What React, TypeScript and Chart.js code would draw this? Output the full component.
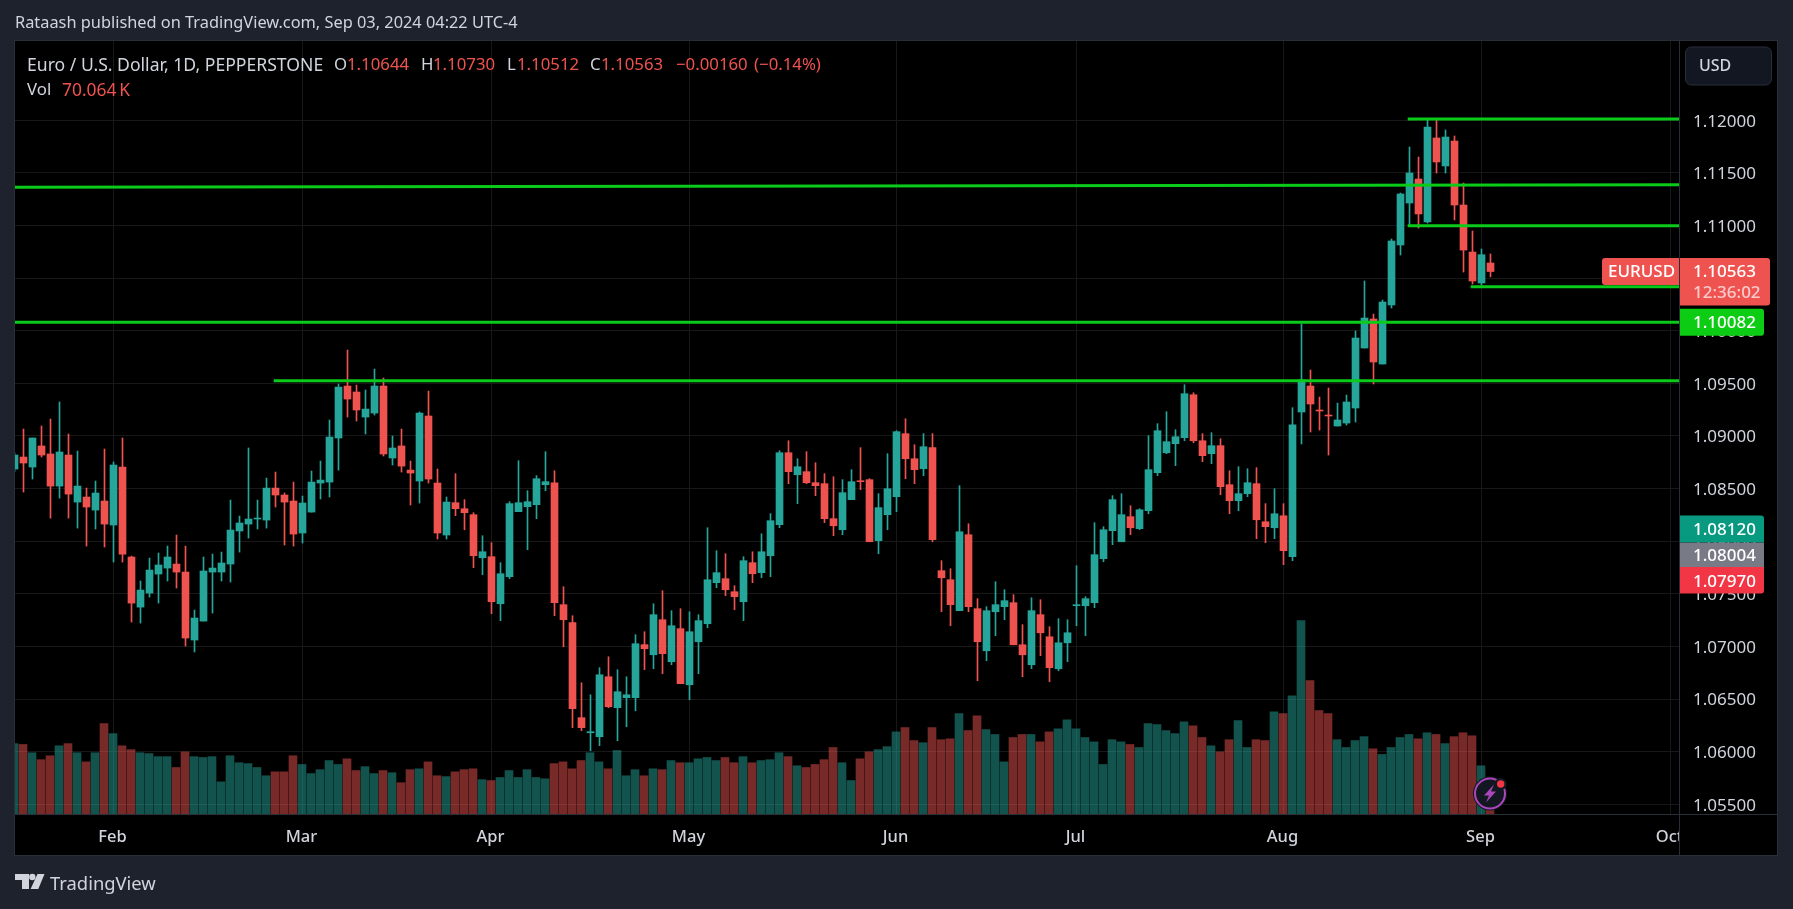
import React, { useEffect, useRef } from "react";
import { Chart, registerables } from "chart.js";

Chart.register(...registerables);

const opens = [
1.08686,1.08800,1.08705,1.08905,1.08829,1.08524,1.08819,1.08372,1.08420,1.08296,
1.08382,1.08154,1.08705,1.07850,1.07374,1.07507,1.07688,1.07745,1.07783,1.07707,
1.07061,1.07241,1.07707,1.07707,1.07783,1.08097,1.08163,1.08211,1.08201,1.08505,
1.08439,1.08382,1.08078,1.08277,1.08553,1.08562,1.08981,1.09475,1.09418,1.09180,
1.09218,1.09475,1.08791,1.08905,1.08676,1.08572,1.09190,1.08553,1.08059,1.08366,
1.08309,1.08252,1.07843,1.07853,1.07406,1.07663,1.08281,1.08328,1.08347,1.08537,
1.08556,1.07397,1.07226,1.06323,1.06180,1.06142,1.06712,1.06418,1.06513,1.06513,
1.07017,1.06921,1.07254,1.06855,1.07169,1.06636,1.07045,1.07216,1.07606,1.07644,
1.07520,1.07425,1.07796,1.07701,1.07862,1.08157,1.08841,1.08632,1.08661,1.08556,
1.08547,1.08214,1.08109,1.08395,1.08575,1.08585,1.08005,1.08252,1.08423,1.09022,
1.08784,1.08689,1.08889,1.07720,1.07634,1.07340,1.08062,1.07359,1.06959,1.07330,
1.07378,1.07416,1.07016,1.06826,1.07302,1.07092,1.06788,1.07035,1.07387,1.07387,
1.07416,1.07834,1.08100,1.07995,1.08233,1.08119,1.08290,1.08651,1.08841,1.08927,
1.08984,1.09392,1.08955,1.08832,1.08908,1.08537,1.08385,1.08452,1.08547,1.08185,
1.08128,1.08242,1.07853,1.09228,1.09475,1.09247,1.09199,1.09095,1.09123,1.09266,
1.09836,1.10112,1.09684,1.10245,1.10815,1.11214,1.11442,1.11034,1.11832,1.11566,
1.11803,1.11195,1.10748,1.10454,1.10644,
];

const closes = [
1.08819,1.08743,1.08981,1.08819,1.08524,1.08848,1.08448,1.08524,1.08325,1.08458,
1.08163,1.08724,1.07878,1.07412,1.07536,1.07726,1.07774,1.07850,1.07707,1.07080,
1.07270,1.07717,1.07745,1.07793,1.08106,1.08173,1.08211,1.08220,1.08505,1.08439,
1.08372,1.08068,1.08363,1.08562,1.08581,1.08990,1.09465,1.09351,1.09247,1.09256,
1.09475,1.08829,1.08886,1.08714,1.08648,1.09218,1.08591,1.08078,1.08372,1.08309,
1.08271,1.07862,1.07900,1.07425,1.07691,1.08357,1.08366,1.08376,1.08594,1.08566,
1.07416,1.07254,1.06408,1.06228,1.06190,1.06731,1.06427,1.06570,1.06541,1.07026,
1.06978,1.07302,1.06931,1.07197,1.06646,1.07140,1.07245,1.07634,1.07701,1.07539,
1.07473,1.07815,1.07691,1.07900,1.08195,1.08841,1.08661,1.08708,1.08556,1.08528,
1.08214,1.08147,1.08461,1.08566,1.08566,1.07995,1.08319,1.08499,1.09041,1.08784,
1.08680,1.08898,1.08014,1.07653,1.07397,1.08090,1.07378,1.07045,1.07340,1.07397,
1.07435,1.07016,1.06921,1.07340,1.07130,1.06798,1.07035,1.07130,1.07397,1.07454,
1.07872,1.08109,1.08395,1.08252,1.08128,1.08299,1.08680,1.09050,1.08946,1.08993,
1.09402,1.08955,1.08813,1.08908,1.08518,1.08385,1.08452,1.08556,1.08204,1.08138,
1.08261,1.07910,1.09107,1.09532,1.09304,1.09237,1.09190,1.09152,1.09323,1.09931,
1.10121,1.09703,1.10273,1.10853,1.11300,1.11499,1.11110,1.11936,1.11604,1.11841,
1.11195,1.10767,1.10473,1.10723,1.10563,
];

const highs = [
1.08840,1.09066,1.08981,1.09095,1.09161,1.09323,1.09019,1.08857,1.08505,1.08572,
1.08876,1.08753,1.08981,1.07859,1.07622,1.07840,1.07888,1.07954,1.08059,1.07954,
1.07346,1.07850,1.07878,1.07897,1.08391,1.08239,1.08886,1.08391,1.08600,1.08657,
1.08458,1.08562,1.08429,1.08667,1.08762,1.09152,1.09494,1.09817,1.09484,1.09437,
1.09636,1.09551,1.09000,1.09066,1.08762,1.09228,1.09427,1.08686,1.08420,1.08642,
1.08395,1.08271,1.08052,1.07986,1.07796,1.08376,1.08765,1.08480,1.08623,1.08851,
1.08670,1.07568,1.07292,1.06655,1.06541,1.06798,1.06902,1.06779,1.06712,1.07112,
1.07140,1.07406,1.07530,1.07340,1.07359,1.07330,1.07302,1.08128,1.07910,1.07881,
1.07577,1.07853,1.07900,1.08071,1.08262,1.08860,1.08955,1.08784,1.08851,1.08746,
1.08642,1.08613,1.08585,1.08680,1.08889,1.08594,1.08452,1.08832,1.09050,1.09164,
1.08917,1.09022,1.09022,1.07815,1.07739,1.08528,1.08166,1.07454,1.07378,1.07615,
1.07539,1.07492,1.07207,1.07463,1.07444,1.07188,1.07264,1.07254,1.07767,1.07473,
1.08176,1.08138,1.08433,1.08452,1.08337,1.08309,1.09003,1.09117,1.09231,1.09060,
1.09487,1.09411,1.09022,1.09031,1.08974,1.08670,1.08708,1.08689,1.08699,1.08357,
1.08499,1.08357,1.09269,1.10064,1.09627,1.09370,1.09456,1.09313,1.09389,1.09998,
1.10473,1.10159,1.10292,1.10872,1.11309,1.11746,1.11651,1.12003,1.12003,1.11908,
1.11851,1.11404,1.10948,1.10777,1.10730,
];

const lows = [
1.08660,1.08467,1.08591,1.08800,1.08220,1.08410,1.08220,1.08125,1.07954,1.08116,
1.07945,1.07802,1.07802,1.07232,1.07222,1.07469,1.07412,1.07622,1.07555,1.07004,
1.06947,1.07241,1.07317,1.07622,1.07612,1.07897,1.08030,1.08116,1.08125,1.08325,
1.07964,1.07954,1.07983,1.08277,1.08401,1.08420,1.08676,1.09180,1.09142,1.09019,
1.09199,1.08810,1.08724,1.08657,1.08344,1.08363,1.08553,1.08021,1.08021,1.08243,
1.08109,1.07748,1.07682,1.07311,1.07245,1.07644,1.08281,1.07919,1.08214,1.08480,
1.07292,1.06997,1.06228,1.06199,1.06009,1.06057,1.06418,1.06104,1.06237,1.06389,
1.06779,1.06788,1.06741,1.06826,1.06646,1.06494,1.06741,1.07178,1.07558,1.07482,
1.07349,1.07245,1.07606,1.07653,1.07663,1.08128,1.08547,1.08357,1.08547,1.08433,
1.08176,1.08052,1.08062,1.08395,1.08490,1.07995,1.07881,1.08109,1.08281,1.08594,
1.08547,1.08623,1.07995,1.07330,1.07197,1.07340,1.07330,1.06674,1.06864,1.07102,
1.07254,1.07016,1.06712,1.06788,1.06912,1.06665,1.06769,1.06855,1.07197,1.07102,
1.07368,1.07805,1.07967,1.07995,1.08062,1.08109,1.08261,1.08623,1.08832,1.08718,
1.08955,1.08936,1.08756,1.08737,1.08442,1.08261,1.08290,1.08423,1.08024,1.07986,
1.08024,1.07777,1.07815,1.08924,1.09038,1.09057,1.08819,1.09095,1.09104,1.09133,
1.09836,1.09494,1.09684,1.10216,1.10720,1.10995,1.10976,1.11024,1.11499,1.11499,
1.11053,1.10558,1.10444,1.10435,1.10512,
];

const volumes = [
162,160,141,125,134,157,162,141,120,141,
208,185,157,148,141,139,132,132,107,143,
132,130,132,74,134,118,116,107,88,97,
97,134,114,93,102,123,114,127,100,109,
93,100,95,72,102,104,120,88,86,97,
102,104,79,77,84,100,84,102,84,81,
116,120,104,123,141,120,104,146,88,102,
88,104,102,123,118,118,127,130,123,130,
118,132,118,123,125,141,132,111,107,114,
125,153,118,77,127,143,148,155,189,199,
169,164,199,171,173,231,192,226,194,183,
120,176,183,183,166,189,196,217,196,176,
166,114,171,166,160,153,208,206,192,185,
212,203,176,157,143,171,215,153,171,169,
235,231,272,445,307,238,231,171,153,169,
178,150,137,153,176,183,173,187,183,162,
178,187,180,111,70.064,
];

const priceTicks = [1.12,1.115,1.11,1.105,1.1,1.095,1.09,1.085,1.08,1.075,1.07,1.065,1.06,1.055];
const monthTicks = [11,32,53,75,98,118,141,163,184];
const monthNames = ["Feb","Mar","Apr","May","Jun","Jul","Aug","Sep","Oct"];

// horizontal drawings: [start bar, end bar, start price, end price]
const levelStarts = [154.8, -2, 154.8, 161.8, -2, 28.8];
const levelEnds = [186, 186, 186, 186, 186, 186];
const levelFrom = [1.12012, 1.11363, 1.10999, 1.10419, 1.10080, 1.09526];
const levelTo = [1.12012, 1.11387, 1.10999, 1.10419, 1.10080, 1.09526];

const lastPrice = 1.10563;
const levelTag = 1.10082;
const bidAsk = ["1.08120", "1.08004", "1.07970"];

const FONT = '"Noto Sans", sans-serif';
const UP = "#26a69a";
const DOWN = "#ef5350";
const GREEN = "#0acb1a";
const BG = "#1e222d";
const LINE = "#2a2e39";
const GRID = "#181818";
const TEXT = "#d1d4dc";
const X_MIN = 0.0556;
const X_MAX = 184.944;

const roundRect = (ctx: any, x: number, y: number, w: number, h: number, r: any) => {
  ctx.beginPath();
  ctx.roundRect(x, y, w, h, r);
  ctx.fill();
};

const framePlugin = {
  id: "frame",
  beforeDraw(chart: any) {
    const { ctx, width, height } = chart;
    ctx.save();
    ctx.fillStyle = BG;
    ctx.fillRect(0, 0, width, height);
    ctx.fillStyle = "#000";
    ctx.fillRect(14, 41, 1764, 815);
    ctx.restore();
  },
  afterDraw(chart: any) {
    const { ctx, scales } = chart;
    const y = scales.y;
    ctx.save();
    // hide the part of the last time label which runs under the price scale
    ctx.fillStyle = "#000";
    ctx.fillRect(1680, 815, 97, 40);
    // frame and separators
    ctx.strokeStyle = LINE;
    ctx.lineWidth = 1;
    ctx.strokeRect(14.5, 40.5, 1763, 815);
    ctx.beginPath();
    ctx.moveTo(1679.5, 41);
    ctx.lineTo(1679.5, 855);
    ctx.moveTo(15, 814.5);
    ctx.lineTo(1777, 814.5);
    ctx.stroke();

    ctx.textBaseline = "middle";
    ctx.font = `500 17px ${FONT}`;
    // last price
    const py = y.getPixelForValue(lastPrice);
    ctx.fillStyle = DOWN;
    roundRect(ctx, 1602, py - 13.5, 77, 27, [3, 0, 0, 3]);
    roundRect(ctx, 1680, py - 13.5, 90, 47.5, [0, 3, 3, 0]);
    ctx.fillStyle = "#fff";
    ctx.textAlign = "left";
    ctx.fillText("EURUSD", 1608, py + 0.5);
    ctx.fillText(lastPrice.toFixed(5), 1693, py + 0.5);
    ctx.fillStyle = "rgba(255,255,255,0.7)";
    ctx.fillText("12:36:02", 1693, py + 22);
    // level tag
    const gy = y.getPixelForValue(levelTag);
    ctx.fillStyle = "#0ccc14";
    roundRect(ctx, 1680, gy - 13.5, 84, 27, [0, 3, 3, 0]);
    ctx.fillStyle = "#fff";
    ctx.fillText(levelTag.toFixed(5), 1693, gy + 1.5);
    // bid / ask stack
    const by = y.getPixelForValue(parseFloat(bidAsk[0]));
    ctx.fillStyle = "#089981";
    roundRect(ctx, 1680, by - 13, 84, 27, [0, 3, 0, 0]);
    ctx.fillStyle = "#787b86";
    ctx.fillRect(1680, by + 14, 84, 24.5);
    ctx.fillStyle = "#f23645";
    roundRect(ctx, 1680, by + 38.5, 84, 26.5, [0, 0, 3, 0]);
    ctx.fillStyle = "#fff";
    ctx.fillText(bidAsk[0], 1693, by + 2);
    ctx.fillText(bidAsk[1], 1693, by + 27.5);
    ctx.fillText(bidAsk[2], 1693, by + 53.5);

    // USD button
    ctx.fillStyle = "#131722";
    ctx.strokeStyle = LINE;
    ctx.beginPath();
    ctx.roundRect(1685.5, 47, 86, 38, 6);
    ctx.fill();
    ctx.stroke();
    ctx.fillStyle = TEXT;
    ctx.font = `500 16px ${FONT}`;
    ctx.fillText("USD", 1699, 66);

    // lightning badge
    const bx = 1490, byy = 793.5;
    ctx.fillStyle = "#131722";
    ctx.beginPath();
    ctx.arc(bx, byy, 17, 0, Math.PI * 2);
    ctx.fill();
    ctx.strokeStyle = "#ab47bc";
    ctx.lineWidth = 2;
    ctx.beginPath();
    ctx.arc(bx, byy, 15, 0, Math.PI * 2);
    ctx.stroke();
    ctx.fillStyle = "#ab47bc";
    ctx.beginPath();
    ctx.moveTo(bx + 4, byy - 9);
    ctx.lineTo(bx - 6, byy + 2);
    ctx.lineTo(bx - 1, byy + 2);
    ctx.lineTo(bx - 4, byy + 9);
    ctx.lineTo(bx + 6, byy - 2);
    ctx.lineTo(bx + 1, byy - 2);
    ctx.closePath();
    ctx.fill();
    ctx.fillStyle = "#131722";
    ctx.beginPath();
    ctx.arc(bx + 10.7, byy - 9.5, 6, 0, Math.PI * 2);
    ctx.fill();
    ctx.fillStyle = "#f23645";
    ctx.beginPath();
    ctx.arc(bx + 10.7, byy - 9.5, 3.7, 0, Math.PI * 2);
    ctx.fill();

    // TradingView logo
    ctx.fillStyle = TEXT;
    ctx.fillRect(15, 874, 14, 6);
    ctx.fillRect(22, 880, 7, 9);
    ctx.beginPath();
    ctx.arc(32.3, 877, 3.2, 0, Math.PI * 2);
    ctx.fill();
    ctx.beginPath();
    ctx.moveTo(37.5, 874);
    ctx.lineTo(44.5, 874);
    ctx.lineTo(38.3, 889);
    ctx.lineTo(30.6, 889);
    ctx.closePath();
    ctx.fill();
    ctx.restore();
  },
};

const txt = (left: number, top: number, text: string, color: string, size = 16.8): any => (
  <span
    style={{
      position: "absolute",
      left,
      top,
      color,
      fontSize: size,
      fontFamily: FONT,
      lineHeight: "20px",
      whiteSpace: "pre",
    }}
  >
    {text}
  </span>
);

export default function App() {
  const ref = useRef<HTMLCanvasElement | null>(null);

  useEffect(() => {
    document.body.style.margin = "0";
    document.body.style.background = BG;
    const idx = opens.map((_, i) => i);
    const isUp = idx.map((i) => closes[i] >= opens[i]);
    const levelSets = levelFrom.map((v, k) => ({
      type: "line",
      data: [
        { x: levelStarts[k], y: v },
        { x: levelEnds[k], y: levelTo[k] },
      ],
      borderColor: GREEN,
      borderWidth: 3,
      pointRadius: 0,
      order: 1,
      xAxisID: "x",
      yAxisID: "y",
    }));
    const chart = new Chart(ref.current as any, {
      type: "bar",
      data: {
        datasets: [
          {
            label: "Vol",
            data: idx.map((i) => ({ x: i, y: volumes[i] })),
            backgroundColor: isUp.map((u) => (u ? "rgba(38,166,154,0.5)" : "rgba(239,83,80,0.5)")),
            barThickness: 8,
            grouped: false,
            order: 5,
            xAxisID: "xVol",
            yAxisID: "yVol",
          },
          {
            label: "Wick",
            data: idx.map((i) => ({ x: i, y: [lows[i], highs[i]] })),
            backgroundColor: isUp.map((u) => (u ? UP : DOWN)),
            barThickness: 1,
            grouped: false,
            order: 4,
            xAxisID: "x",
            yAxisID: "y",
          },
          {
            label: "Body",
            data: idx.map((i) => ({ x: i, y: [opens[i], closes[i]] })),
            backgroundColor: isUp.map((u) => (u ? UP : DOWN)),
            barThickness: 7,
            grouped: false,
            order: 3,
            xAxisID: "x",
            yAxisID: "y",
          },
          ...levelSets,
        ],
      } as any,
      options: {
        responsive: false,
        animation: false,
        devicePixelRatio: 1,
        layout: { padding: { left: 15, top: 41, right: 16, bottom: 54 } },
        plugins: { legend: { display: false }, tooltip: { enabled: false } },
        scales: {
          x: {
            type: "linear",
            offset: false,
            min: X_MIN,
            max: X_MAX,
            afterFit: (s: any) => {
              s.height = 41;
            },
            afterBuildTicks: (s: any) => {
              s.ticks = monthTicks.map((v) => ({ value: v }));
            },
            grid: { color: GRID, drawTicks: false, offset: false },
            border: { display: false },
            ticks: {
              autoSkip: false,
              maxRotation: 0,
              padding: 13,
              labelOffset: -1,
              color: TEXT,
              font: { family: FONT, size: 16.5, weight: "500" },
              callback: (v: any) => monthNames[monthTicks.indexOf(v)] ?? "",
            },
          },
          xVol: { type: "linear", offset: false, display: false, min: X_MIN + 0.0556, max: X_MAX + 0.0556 },
          y: {
            position: "right",
            min: 1.054078,
            max: 1.127536,
            afterFit: (s: any) => {
              s.width = 98;
            },
            afterBuildTicks: (s: any) => {
              s.ticks = priceTicks.map((v) => ({ value: v }));
            },
            grid: { color: GRID, drawTicks: false },
            border: { display: false },
            ticks: {
              padding: 14,
              labelOffset: 1.5,
              color: TEXT,
              font: { family: FONT, size: 17 },
              callback: (v: any) => Number(v).toFixed(5),
            },
          },
          yVol: { type: "linear", display: false, min: 0, max: 1779 },
        },
      } as any,
      plugins: [framePlugin],
    } as any);
    return () => chart.destroy();
  }, []);

  return (
    <div style={{ position: "relative", width: 1793, height: 909, overflow: "hidden" }}>
      <canvas ref={ref} width={1793} height={909} style={{ position: "absolute", left: 0, top: 0 }} />
      {txt(15, 12, "Rataash published on TradingView.com, Sep 03, 2024 04:22 UTC-4", TEXT, 16.35)}
      {txt(27, 54, "Euro / U.S. Dollar, 1D, PEPPERSTONE", TEXT, 17.6)}
      {txt(334, 54, "O", TEXT)}
      {txt(347, 54, "1.10644", DOWN)}
      {txt(421, 54, "H", TEXT)}
      {txt(433, 54, "1.10730", DOWN)}
      {txt(507, 54, "L", TEXT)}
      {txt(517, 54, "1.10512", DOWN)}
      {txt(590, 54, "C", TEXT)}
      {txt(601, 54, "1.10563", DOWN)}
      {txt(676, 54, "\u22120.00160", DOWN)}
      {txt(754, 54, "(\u22120.14%)", DOWN)}
      {txt(27, 79, "Vol", TEXT)}
      {txt(62, 79, "70.064\u2009K", DOWN, 17.4)}
      {txt(50, 873, "TradingView", TEXT, 18.4)}
    </div>
  );
}
